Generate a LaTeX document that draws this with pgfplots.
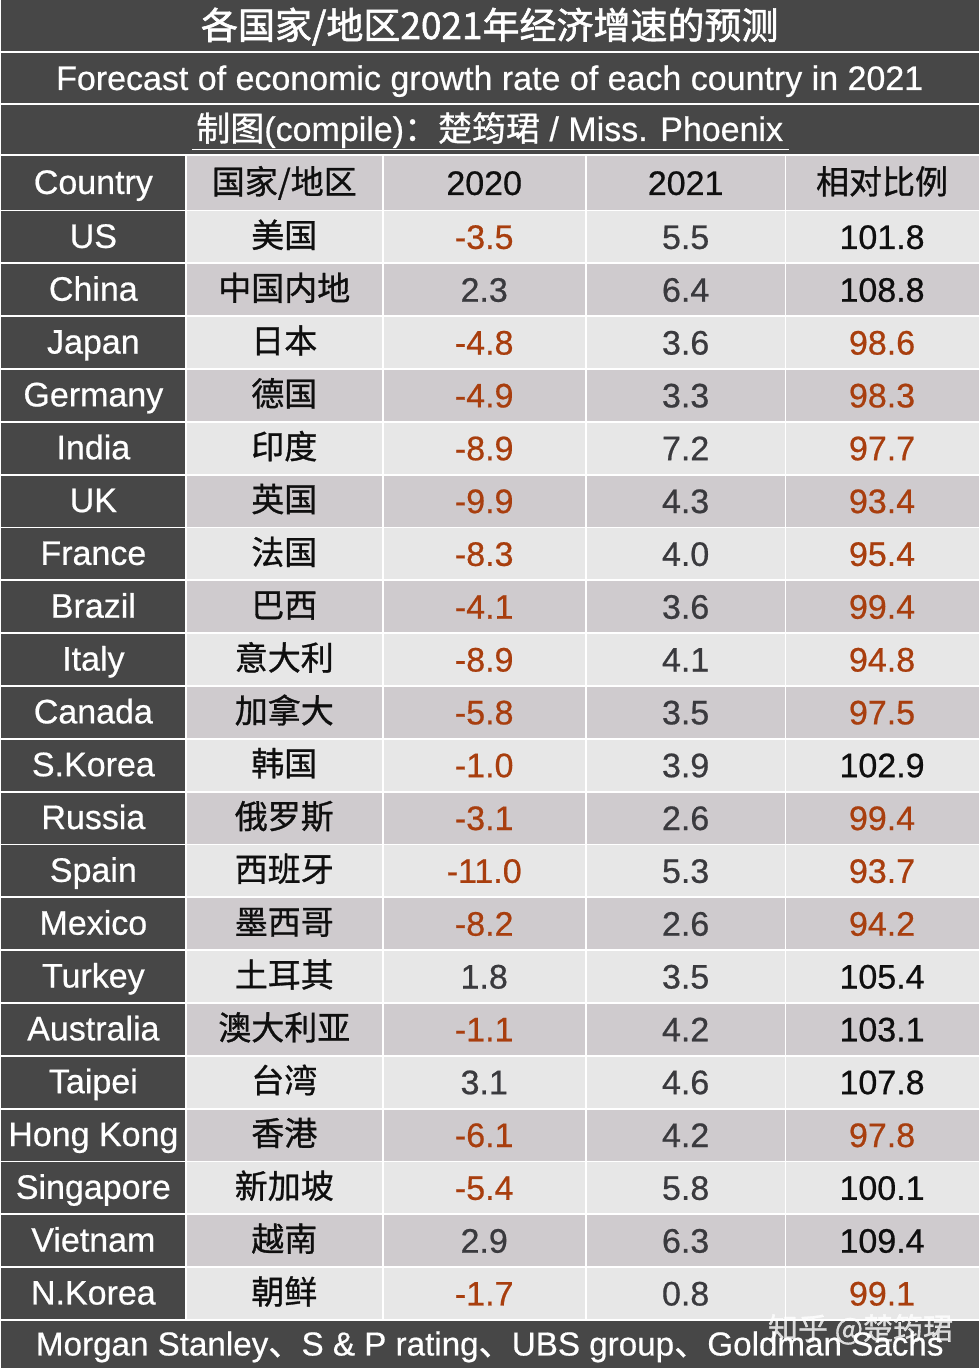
\documentclass[border=0pt]{standalone}
\usepackage{pgfplots}
\pgfplotsset{compat=1.18}
\usepackage{pgfplotstable}
\usepackage{fontspec}
\setmainfont{Liberation Sans}[FakeBold=0.6]
\newfontfamily\cjk{Noto Sans CJK SC}[FakeBold=0.9]
\newfontfamily\cjkt{Noto Sans CJK SC}[FakeBold=1.6]
\definecolor{darkbg}{RGB}{71,71,71}
\definecolor{rowA}{RGB}{231,231,231}
\definecolor{rowB}{RGB}{207,203,206}
\definecolor{neg}{RGB}{168,62,14}
\definecolor{numgray}{RGB}{58,58,62}
\definecolor{ink}{RGB}{15,15,15}

\pgfplotstableread[col sep=comma]{
idx,country,cn,a,b,r
0,US,美国,-3.5,5.5,101.8
1,China,中国内地,2.3,6.4,108.8
2,Japan,日本,-4.8,3.6,98.6
3,Germany,德国,-4.9,3.3,98.3
4,India,印度,-8.9,7.2,97.7
5,UK,英国,-9.9,4.3,93.4
6,France,法国,-8.3,4.0,95.4
7,Brazil,巴西,-4.1,3.6,99.4
8,Italy,意大利,-8.9,4.1,94.8
9,Canada,加拿大,-5.8,3.5,97.5
10,S.Korea,韩国,-1.0,3.9,102.9
11,Russia,俄罗斯,-3.1,2.6,99.4
12,Spain,西班牙,-11.0,5.3,93.7
13,Mexico,墨西哥,-8.2,2.6,94.2
14,Turkey,土耳其,1.8,3.5,105.4
15,Australia,澳大利亚,-1.1,4.2,103.1
16,Taipei,台湾,3.1,4.6,107.8
17,Hong Kong,香港,-6.1,4.2,97.8
18,Singapore,新加坡,-5.4,5.8,100.1
19,Vietnam,越南,2.9,6.3,109.4
20,N.Korea,朝鲜,-1.7,0.8,99.1
}\data

\pgfplotsset{
  txt/.style={only marks, mark=none, nodes near coords, nodes near coords align={anchor=base},
    point meta=explicit symbolic,
    every node near coord/.append style={inner sep=0pt, anchor=base, font=#1}},
}
\newcommand\negcol[2]{\ifdim#1pt<#2pt\textcolor{neg}{#1}\else\textcolor{ink}{#1}\fi}
\newcommand\negcolg[2]{\ifdim#1pt<#2pt\textcolor{neg}{#1}\else\textcolor{numgray}{#1}\fi}

\begin{document}
\begin{tikzpicture}
\begin{axis}[
  scale only axis, width=489pt, height=684.5pt,
  xmin=0, xmax=978, ymin=0, ymax=1369, y dir=reverse,
  hide axis, clip=false,
]
% background
\addplot[fill=darkbg, draw=none] coordinates {(0,0) (978,0) (978,1369) (0,1369)} --cycle;
% header row
\addplot[fill=rowB, draw=none] coordinates {(185,155) (978,155) (978,210.6) (185,210.6)} --cycle;
% data rows
\pgfplotsinvokeforeach{0,2,...,20}{
  \pgfmathsetmacro\ya{210.6+52.85*#1}
  \pgfmathsetmacro\yb{210.6+52.85*(#1+1)}
  \addplot[fill=rowA, draw=none] coordinates {(185,\ya) (978,\ya) (978,\yb) (185,\yb)} --cycle;
}
\pgfplotsinvokeforeach{1,3,...,19}{
  \pgfmathsetmacro\ya{210.6+52.85*#1}
  \pgfmathsetmacro\yb{210.6+52.85*(#1+1)}
  \addplot[fill=rowB, draw=none] coordinates {(185,\ya) (978,\ya) (978,\yb) (185,\yb)} --cycle;
}
% grid lines
\pgfplotsinvokeforeach{52,104,155}{
  \addplot[white, line width=0.9pt] coordinates {(0,#1) (978,#1)};
}
\pgfplotsinvokeforeach{0,...,21}{
  \pgfmathsetmacro\yl{210.6+52.85*#1}
  \addplot[white, line width=0.9pt] coordinates {(0,\yl) (978,\yl)};
}
\pgfplotsinvokeforeach{185,382,585,785}{
  \addplot[white, line width=0.9pt] coordinates {(#1,155) (#1,1320.45)};
}

% title rows
\node[text=white, font=\cjkt\fontsize{18.5pt}{20pt}\selectfont, anchor=base] at (axis cs:489,39) {各国家/地区2021年经济增速的预测};
\node[text=white, font=\fontsize{17pt}{19pt}\selectfont, anchor=base] at (axis cs:489,90) {Forecast of economic growth rate of each country in 2021};
\node[text=white, font=\fontsize{17pt}{19pt}\selectfont, anchor=base] at (axis cs:489,141) {{\cjk 制图}(compile){\cjk ：楚筠珺} / Miss. Phoenix};
\draw[white, line width=0.9pt] (axis cs:191,149.5) -- (axis cs:788,149.5);

% header
\node[text=white, font=\fontsize{17pt}{19pt}\selectfont, anchor=base] at (axis cs:92.5,194) {Country};
\node[text=ink, font=\cjk\fontsize{16.5pt}{19pt}\selectfont, anchor=base] at (axis cs:283.5,194) {国家/地区};
\node[text=ink, font=\fontsize{17pt}{19pt}\selectfont, anchor=base] at (axis cs:483.5,195) {2020};
\node[text=ink, font=\fontsize{17pt}{19pt}\selectfont, anchor=base] at (axis cs:685,195) {2021};
\node[text=ink, font=\cjk\fontsize{16.5pt}{19pt}\selectfont, anchor=base] at (axis cs:881.5,194) {相对比例};

% data columns
\addplot[txt={\fontsize{17pt}{19pt}\selectfont\color{white}}]
  table[x expr=92.5, y expr=248+52.85*\thisrow{idx}, meta=country] {\data};
\addplot[txt={\cjk\fontsize{16.5pt}{19pt}\selectfont\color{ink}}]
  table[x expr=283.5, y expr=247.5+52.85*\thisrow{idx}, meta=cn] {\data};
\addplot[txt={\fontsize{17pt}{19pt}\selectfont},
  nodes near coords={\negcolg{\pgfplotspointmeta}{0}}]
  table[x expr=483.5, y expr=249+52.85*\thisrow{idx}, meta=a] {\data};
\addplot[txt={\fontsize{17pt}{19pt}\selectfont\color{numgray}}]
  table[x expr=685, y expr=249+52.85*\thisrow{idx}, meta=b] {\data};
\addplot[txt={\fontsize{17pt}{19pt}\selectfont},
  nodes near coords={\negcol{\pgfplotspointmeta}{100}}]
  table[x expr=881.5, y expr=249+52.85*\thisrow{idx}, meta=r] {\data};

% footer
\node[text=white, font=\fontsize{16.6pt}{19pt}\selectfont, anchor=base] at (axis cs:489,1356) {Morgan Stanley{\cjk 、}S \& P rating{\cjk 、}UBS group{\cjk 、}Goldman Sachs};
\node[text=white, opacity=0.8, font=\cjk\fontsize{15pt}{17pt}\selectfont, anchor=base] at (axis cs:860,1340) {知乎 @楚筠珺};
\end{axis}
\end{tikzpicture}
\end{document}
